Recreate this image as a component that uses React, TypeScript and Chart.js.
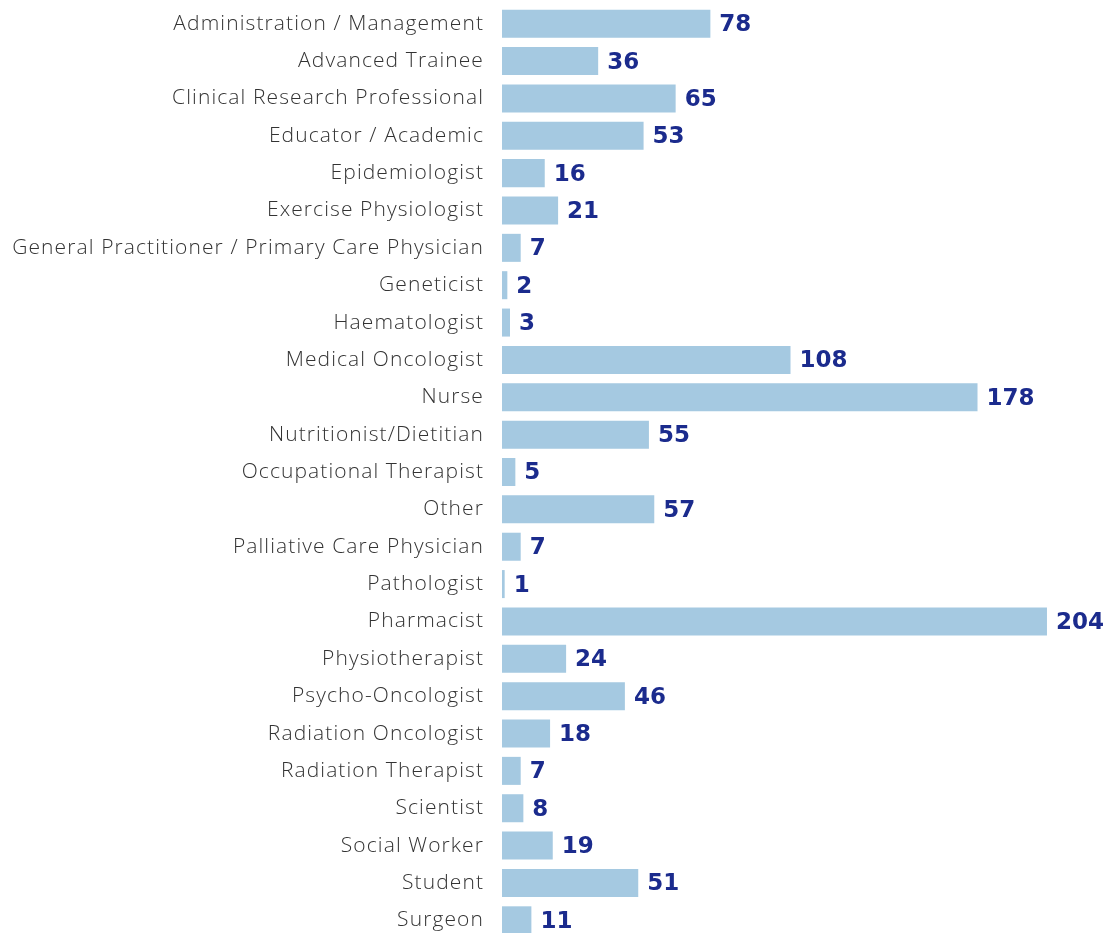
import React, { useEffect, useRef } from "react";
import { Chart, registerables } from "chart.js";

Chart.register(...registerables);

const categories = [
  "Administration / Management",
  "Advanced Trainee",
  "Clinical Research Professional",
  "Educator / Academic",
  "Epidemiologist",
  "Exercise Physiologist",
  "General Practitioner / Primary Care Physician",
  "Geneticist",
  "Haematologist",
  "Medical Oncologist",
  "Nurse",
  "Nutritionist/Dietitian",
  "Occupational Therapist",
  "Other",
  "Palliative Care Physician",
  "Pathologist",
  "Pharmacist",
  "Physiotherapist",
  "Psycho-Oncologist",
  "Radiation Oncologist",
  "Radiation Therapist",
  "Scientist",
  "Social Worker",
  "Student",
  "Surgeon",
];

const counts = [78, 36, 65, 53, 16, 21, 7, 2, 3, 108, 178, 55, 5, 57, 7, 1, 204, 24, 46, 18, 7, 8, 19, 51, 11];

const BAR_COLOR = "#a5c9e1";
const VALUE_COLOR = "#1b2b8d";
const LABEL_COLOR = "#333333";

const spacing = {
  id: "spacing",
  beforeDraw(chart: any) {
    (chart.ctx as any).letterSpacing = "1.1px";
  },
};

const valueLabels = {
  id: "valueLabels",
  afterDatasetsDraw(chart: any) {
    const ctx = chart.ctx;
    const meta = chart.getDatasetMeta(0);
    ctx.save();
    (ctx as any).letterSpacing = "0px";
    ctx.font = "bold 23px 'DejaVu Sans', sans-serif";
    ctx.fillStyle = VALUE_COLOR;
    ctx.textAlign = "left";
    ctx.textBaseline = "middle";
    meta.data.forEach((bar: any, i: number) => {
      ctx.fillText(String(counts[i]), bar.x + 9, bar.y + 1.5);
    });
    ctx.restore();
  },
};

export default function App() {
  const ref = useRef<HTMLCanvasElement | null>(null);
  useEffect(() => {
    if (!ref.current) return;
    const chart = new Chart(ref.current, {
      type: "bar",
      data: {
        labels: categories,
        datasets: [
          {
            data: counts,
            backgroundColor: BAR_COLOR,
            borderWidth: 0,
            categoryPercentage: 0.75,
            barPercentage: 1,
          },
        ],
      },
      options: {
        indexAxis: "y",
        responsive: false,
        animation: false,
        layout: { padding: { top: 5, right: 46, bottom: 0, left: 0 } },
        plugins: { legend: { display: false }, tooltip: { enabled: false } },
        scales: {
          x: { display: false, min: 0, max: 210 },
          y: {
            grid: { display: false, drawTicks: false },
            border: { display: false },
            ticks: {
              padding: 18,
              color: LABEL_COLOR,
              font: { family: "'Open Sans'", size: 21, weight: "300" as any },
              autoSkip: false,
            },
            afterFit(scale: any) {
              scale.width = 502;
              scale.paddingTop = 0;
              scale.paddingBottom = 0;
            },
          },
        },
      },
      plugins: [spacing, valueLabels],
    });
    return () => chart.destroy();
  }, []);
  return (
    <div style={{ position: "absolute", left: 0, top: 0, width: 1109, height: 933, overflow: "hidden", background: "#fff" }}>
      <canvas ref={ref} width={1109} height={939} />
    </div>
  );
}
